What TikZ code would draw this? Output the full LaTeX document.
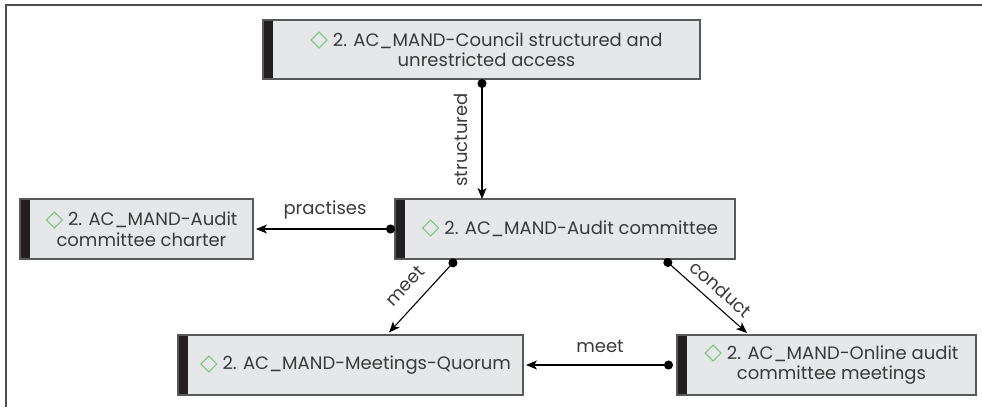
\documentclass[tikz,border=0pt]{standalone}
\usepackage{fontspec}
\setmainfont{Poppins}
\newfontfamily\symfont{DejaVu Sans}
\usetikzlibrary{arrows.meta}
\definecolor{boxfill}{HTML}{E6E7E8}
\definecolor{boxline}{HTML}{58595B}
\definecolor{barcol}{HTML}{231F20}
\definecolor{txtcol}{HTML}{3A3A3A}
\definecolor{diagreen}{HTML}{7CC47F}
\definecolor{framecol}{HTML}{4D4D4D}
\newcommand{\dia}{{\symfont\fontsize{23}{20}\selectfont\color{diagreen}\raisebox{-0.5pt}{\char"25C7}}}
\tikzset{
  conceptbox/.style={draw=boxline, line width=1.2pt, fill=boxfill, inner sep=0pt,
    path picture={\fill[barcol] (path picture bounding box.north west)
      rectangle ([xshift=10pt]path picture bounding box.south west);}},
  conceptlabel/.style={text=txtcol, font=\fontsize{18}{20.5}\selectfont, align=center, inner sep=0pt},
  rel/.style={draw=black, line width=1.1pt, {Circle[length=9pt]}-{Stealth[length=11pt,width=9pt,inset=3pt]}},
  rellabel/.style={text=txtcol, font=\fontsize{18}{20}\selectfont, inner sep=0pt}
}
\begin{document}
\begin{tikzpicture}[x=1pt, y=-1pt]
\useasboundingbox (0,0) rectangle (982,407);
% partial frame
\draw[framecol, line width=2pt] (6,407) -- (6,5) -- (982,5);

% concept boxes
\node[conceptbox, minimum width=437pt, minimum height=59pt] (council) at (481.5,49.5) {};
\node[conceptbox, minimum width=233pt, minimum height=60pt] (charter) at (136.5,229) {};
\node[conceptbox, minimum width=340pt, minimum height=60pt] (audit) at (565,229) {};
\node[conceptbox, minimum width=345pt, minimum height=60pt] (quorum) at (350.5,365) {};
\node[conceptbox, minimum width=299pt, minimum height=60pt] (online) at (826.5,365) {};

% box texts, centred right of the dark bar
\node[conceptlabel] (councilT) at ([xshift=5pt]council.center) {\dia\ 2. AC\_MAND-Council structured and\\unrestricted access};
\node[conceptlabel] (charterT) at ([xshift=5pt]charter.center) {\dia\ 2. AC\_MAND-Audit\\committee charter};
\node[conceptlabel] (auditT) at ([xshift=5pt]audit.center) {\dia\ 2. AC\_MAND-Audit committee};
\node[conceptlabel] (quorumT) at ([xshift=5pt]quorum.center) {\dia\ 2. AC\_MAND-Meetings-Quorum};
\node[conceptlabel] (onlineT) at ([xshift=5pt]online.center) {\dia\ 2. AC\_MAND-Online audit\\committee meetings};

% connector end points
\coordinate (s1) at (482,79);
\coordinate (e1) at (482,199);
\coordinate (s2) at (395,229);
\coordinate (e2) at (256,229);
\coordinate (s3) at (456,259.5);
\coordinate (e3) at (389,332.5);
\coordinate (s4) at (664.5,259.5);
\coordinate (e4) at (747,333);
\coordinate (s5) at (673,365);
\coordinate (e5) at (526,365);

\draw[rel] (s1) -- (e1);
\draw[rel] (s2) -- (e2);
\draw[rel] (s3) -- (e3);
\draw[rel] (s4) -- (e4);
\draw[rel] (s5) -- (e5);

% connector labels
\node[rellabel, rotate=90] (l1) at (461,140) {structured};
\node[rellabel] (l2) at (325,210) {practises};
\node[rellabel, rotate=47] (l3) at (405,286) {meet};
\node[rellabel, rotate=-41.5] (l4) at (721,289) {conduct};
\node[rellabel] (l5) at (600,346) {meet};
\end{tikzpicture}
\end{document}
